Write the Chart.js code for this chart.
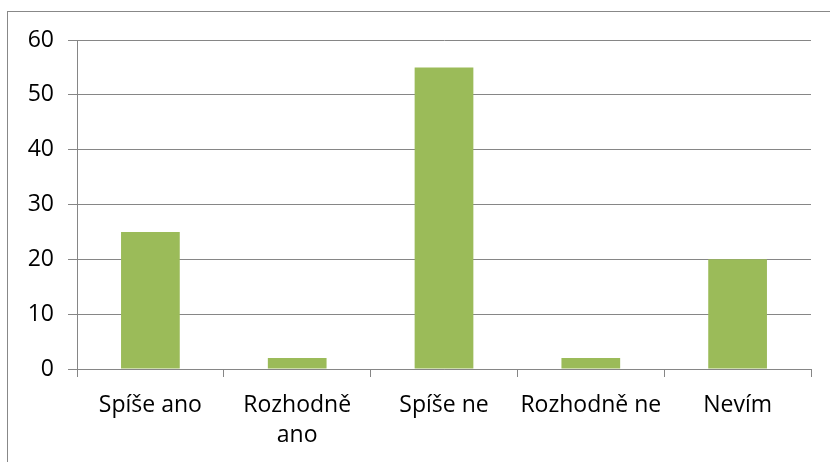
<!DOCTYPE html>
<html>
<head>
<meta charset="utf-8">
<script src="https://cdn.jsdelivr.net/npm/chart.js@4/dist/chart.umd.min.js"></script>
<style>
  html, body { margin: 0; padding: 0; background: #fff; }
  #wrap { position: relative; width: 830px; height: 462px; }
  #ramecek { position: absolute; left: 7px; top: 11px; width: 840px; height: 470px;
             border-left: 1px solid #888; border-top: 1px solid #888; }
</style>
</head>
<body>
<div id="wrap">
  <div id="ramecek"></div>
  <canvas id="graf" width="830" height="462"></canvas>
</div>
<script>
// odpovedi a pocty
const kategorie = ['Spíše ano', ['Rozhodně', 'ano'], 'Spíše ne', 'Rozhodně ne', 'Nevím'];
const pocty = [25, 2, 55, 2, 20];
const osaY = { min: 0, max: 60, krok: 10 };

const seda = '#868686';
const pismo = { family: '"Open Sans", sans-serif', size: 23, lineHeight: 1.3 };

const ctx = document.getElementById('graf').getContext('2d');
new Chart(ctx, {
    type: 'bar',
    data: {
        labels: kategorie,
        datasets: [{
            data: pocty,
            backgroundColor: '#9bbb59',
            borderWidth: 0,
            categoryPercentage: 1,
            barPercentage: 0.4
        }]
    },
    options: {
        responsive: false,
        animation: false,
        layout: { padding: { top: 40, right: 19, left: 0, bottom: 0 } },
        plugins: { legend: { display: false }, tooltip: { enabled: false } },
        scales: {
            x: {
                afterFit: (s) => { s.height = 93; },
                border: { color: seda, width: 1 },
                grid: { offset: true, drawOnChartArea: false, tickLength: 8, color: seda },
                ticks: { color: '#000', font: pismo, padding: 14, maxRotation: 0, autoSkip: false }
            },
            y: {
                min: osaY.min,
                max: osaY.max,
                afterFit: (s) => { s.width = 77; },
                border: { color: seda, width: 1 },
                grid: { color: seda, tickLength: 9 },
                ticks: { stepSize: osaY.krok, color: '#000', font: pismo, padding: 14 }
            }
        }
    }
});
</script>
</body>
</html>
